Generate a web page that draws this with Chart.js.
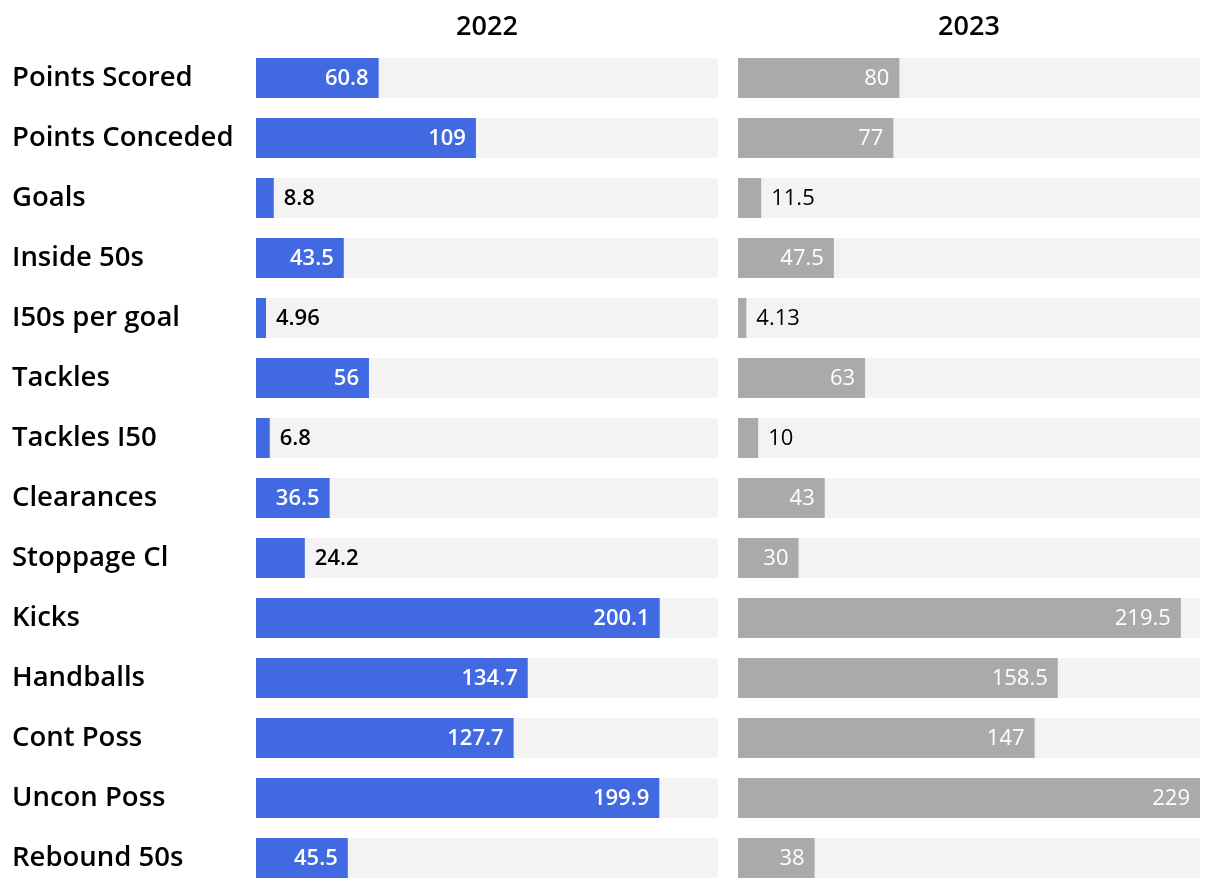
<!DOCTYPE html>
<html><head><meta charset="utf-8">
<script src="https://cdn.jsdelivr.net/npm/chart.js@4/dist/chart.umd.min.js"></script>
<style>
html,body{margin:0;padding:0;background:#fff;}
#wrap{position:relative;width:1220px;height:892px;}
#c1{position:absolute;left:0;top:0;}
#c2{position:absolute;left:738px;top:0;}
</style></head><body>
<div id="wrap"><canvas id="c1" width="718" height="892"></canvas><canvas id="c2" width="462" height="892"></canvas></div>
<script>
const categories = ["Points Scored","Points Conceded","Goals","Inside 50s","I50s per goal","Tackles","Tackles I50","Clearances","Stoppage Cl","Kicks","Handballs","Cont Poss","Uncon Poss","Rebound 50s"];
const values2022 = [60.8,109,8.8,43.5,4.96,56,6.8,36.5,24.2,200.1,134.7,127.7,199.9,45.5];
const values2023 = [80,77,11.5,47.5,4.13,63,10,43,30,219.5,158.5,147,229,38];
const labels2022 = ["60.8","109","8.8","43.5","4.96","56","6.8","36.5","24.2","200.1","134.7","127.7","199.9","45.5"];
const labels2023 = ["80","77","11.5","47.5","4.13","63","10","43","30","219.5","158.5","147","229","38"];
const titles = ["2022","2023"];

const maxVal = Math.max(...values2022, ...values2023);
const FONT = "'Open Sans', sans-serif";

function valueLabelPlugin(texts, weight){
  return {
    id:'vlabels',
    afterDatasetsDraw(chart){
      const ctx = chart.ctx;
      const meta = chart.getDatasetMeta(1);
      ctx.save();
      ctx.font = weight + " 22px " + FONT;
      ctx.textBaseline = 'middle';
      meta.data.forEach((bar,i)=>{
        const t = texts[i];
        const w = ctx.measureText(t).width;
        const barW = bar.x - bar.base;
        if (w + 18 <= barW){
          ctx.fillStyle = '#ffffff';
          ctx.textAlign = 'right';
          ctx.fillText(t, bar.x - 10, bar.y + 1);
        } else {
          ctx.fillStyle = '#000000';
          ctx.textAlign = 'left';
          ctx.fillText(t, bar.x + 10, bar.y + 1);
        }
      });
      ctx.restore();
    }
  };
}
function titlePlugin(text){
  return {
    id:'ptitle',
    afterDraw(chart){
      const ctx = chart.ctx, a = chart.chartArea;
      ctx.save();
      ctx.font = "600 27px " + FONT;
      ctx.fillStyle = '#000';
      ctx.textAlign = 'center';
      ctx.textBaseline = 'middle';
      ctx.fillText(text, (a.left + a.right)/2, a.top - 21);
      ctx.restore();
    }
  };
}

function makeChart(id, values, texts, color, title, showY, weight){
  const track = values.map(()=>maxVal);
  return new Chart(document.getElementById(id), {
    type:'bar',
    data:{
      labels: categories,
      datasets:[
        {data: track, backgroundColor:'#f3f3f3', grouped:false, order:2, barPercentage:1, categoryPercentage:2/3},
        {data: values, backgroundColor: color, grouped:false, order:1, barPercentage:1, categoryPercentage:2/3}
      ]
    },
    options:{
      indexAxis:'y',
      responsive:false,
      animation:false,
      layout:{padding:{top:48, bottom:4, left: showY ? 12 : 0, right:0}},
      plugins:{legend:{display:false}, tooltip:{enabled:false}, title:{display:false}},
      scales:{
        x:{min:0, max:maxVal, display:false},
        y:{
          display: showY,
          grid:{display:false, drawTicks:false},
          border:{display:false},
          ticks:{crossAlign:'far', color:'#000', padding:0, font:{family:FONT, size:27.5, weight:'600'}},
          afterFit(s){ if (showY){ s.width = 244; s.paddingTop = 0; s.paddingBottom = 0; } }
        }
      }
    },
    plugins:[valueLabelPlugin(texts, weight), titlePlugin(title)]
  });
}
makeChart('c1', values2022, labels2022, '#4169e1', titles[0], true, '600');
makeChart('c2', values2023, labels2023, '#aaaaaa', titles[1], false, '500');
</script>
</body></html>
